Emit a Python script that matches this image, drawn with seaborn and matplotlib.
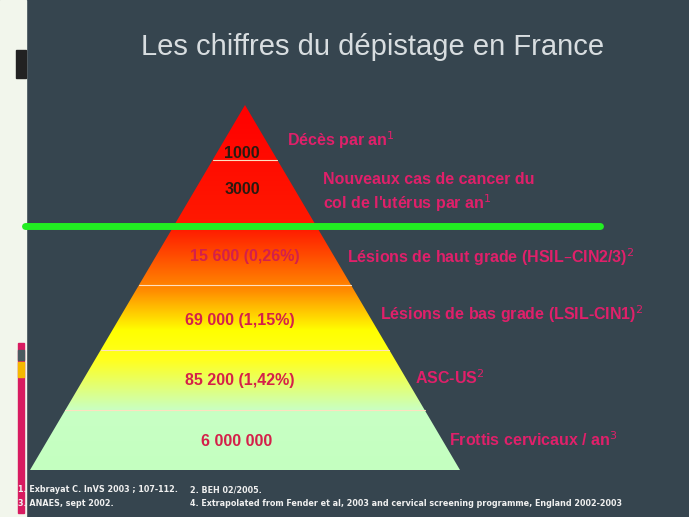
import numpy as np
import matplotlib
matplotlib.use("Agg")
import matplotlib.pyplot as plt
from matplotlib.patches import Polygon, Rectangle
from matplotlib.colors import to_rgb
import seaborn as sns

sns.set_theme(style="white")

values = ["1000", "3000", "15 600 (0,26%)", "69 000 (1,15%)", "85 200 (1,42%)", "6 000 000"]
labels = [r"Décès par an$^{1}$",
          "Nouveaux cas de cancer du\n" + r"col de l'utérus par an$^{1}$",
          r"Lésions de haut grade (HSIL–CIN2/3)$^{2}$",
          r"Lésions de bas grade (LSIL-CIN1)$^{2}$",
          r"ASC-US$^{2}$",
          r"Frottis cervicaux / an$^{3}$"]
title = "Les chiffres du dépistage en France"
foot1 = ["1. Exbrayat C. InVS 2003 ; 107-112.", "2. BEH 02/2005."]
foot2 = ["3. ANAES, sept 2002.", "4. Extrapolated from Fender et al, 2003 and cervical screening programme, England 2002-2003"]

W, H = 689, 517
fig = plt.figure(figsize=(W / 100, H / 100), dpi=100)
bg = "#36454f"
fig.patch.set_facecolor(bg)
ax = fig.add_axes([0, 0, 1, 1])
ax.set_xlim(0, W); ax.set_ylim(H, 0); ax.axis("off")
ax.add_patch(Rectangle((0, 0), W, H, color=bg, zorder=0))

# left strip
ax.add_patch(Rectangle((0, 0), 26, H, color="#f2f6ec", zorder=1))
ax.add_patch(Rectangle((16, 50), 10, 28, color="#222222", zorder=2))
ax.add_patch(Rectangle((18, 343), 6, 170, color="#d81b60", zorder=2))
ax.add_patch(Rectangle((18, 350), 6, 10, color="#4a5a60", zorder=3))
ax.add_patch(Rectangle((18, 362), 6, 15, color="#f5b800", zorder=3))

apex = (245, 105); base_l, base_r, base_y = 30, 460, 470
bounds = [105, 160, 228, 285, 350, 410, 470]

stops_y = [105, 228, 290, 330, 360, 410, 470]
stops_c = ["#ff0000", "#ff1a00", "#ff8c00", "#ffff00", "#ffff20", "#c8ffc4", "#c4ffc0"]
ys = np.arange(100, 475)
cols = np.array([to_rgb(c) for c in stops_c])
grad = np.stack([np.interp(ys, stops_y, cols[:, k]) for k in range(3)], axis=1)
img = np.repeat(grad[:, None, :], 2, axis=1)
im = ax.imshow(img, extent=(base_l, base_r, 475, 100), aspect="auto", zorder=3)
tri = Polygon([apex, (base_l, base_y), (base_r, base_y)], closed=True, transform=ax.transData)
im.set_clip_path(tri)

def xs_at(y):
    t = (y - apex[1]) / (base_y - apex[1])
    return apex[0] + t * (base_l - apex[0]), apex[0] + t * (base_r - apex[0])

for y in bounds[1:-1]:
    a, b = xs_at(y)
    sns.lineplot(x=[a, b], y=[y, y], ax=ax, color="#ffe0c0", lw=0.8, zorder=4, legend=False)

sns.lineplot(x=[25, 600], y=[226, 226], ax=ax, color="#22ee22", lw=5, zorder=6, legend=False)

val_pos = [(242, 153), (242, 190), (245, 257), (240, 320), (240, 381), (237, 441)]
val_col = ["#2a1a10", "#2a1a10", "#d4204a", "#d4204a", "#d4204a", "#d4204a"]
for v, (x, y), c in zip(values, val_pos, val_col):
    ax.text(x, y, v, ha="center", va="center", fontsize=11.5, fontweight="bold",
            color=c, family="Liberation Sans", zorder=7)

lab_pos = [(287, 140), (323, 193), (347, 257), (380, 314), (415, 378), (449, 440)]
for t, (x, y) in zip(labels, lab_pos):
    ax.text(x, y, t, ha="left", va="center", fontsize=11.5, fontweight="bold",
            color="#e0206a", family="Liberation Sans", linespacing=1.35, zorder=7)

ax.text(373, 47, title, ha="center", va="center", fontsize=21, color="#d8dde0",
        family="Liberation Sans", zorder=7)

for (t1, t2), y in zip([foot1, foot2], [490, 503]):
    ax.text(18, y, t1, ha="left", va="center", fontsize=5.8, fontweight="bold", color="#f0f0f0", zorder=7)
    ax.text(190, y, t2, ha="left", va="center", fontsize=5.8, fontweight="bold", color="#f0f0f0", zorder=7)

fig.savefig("out.png", dpi=100, facecolor=bg)
